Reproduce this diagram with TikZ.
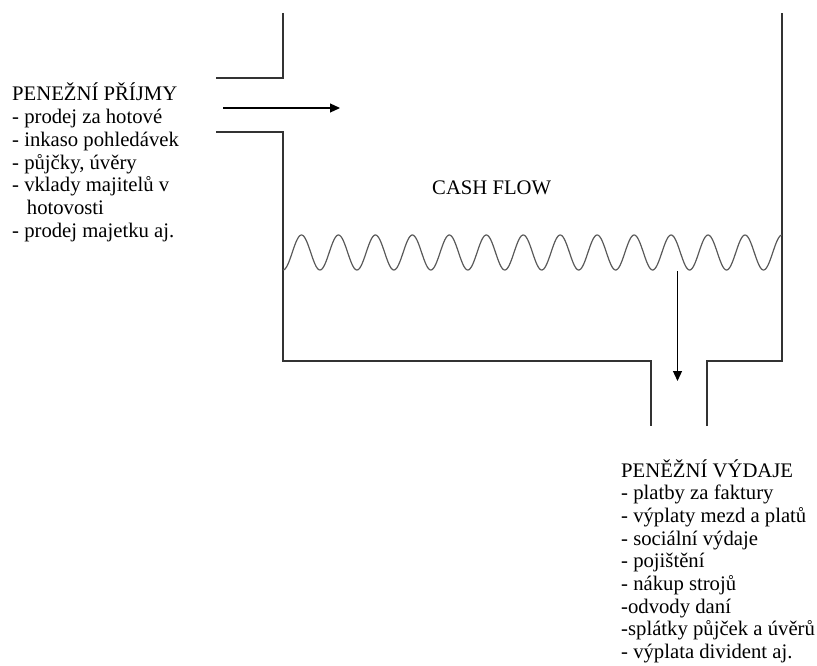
\documentclass[tikz,border=0pt]{standalone}
\usepackage{fontspec}
\setmainfont{Liberation Serif}
\usetikzlibrary{arrows.meta}
\tikzset{
  wall/.style={draw=black!80, line width=1.2pt},
  wavy/.style={draw=black!65, line width=1.2pt},
  flowarrow/.style={draw=black, line width=1.2pt, -{Triangle[length=10pt,width=9pt]}},
  listtext/.style={anchor=base west, inner sep=0pt, text=black,
    font=\fontsize{20.7}{22.7}\selectfont},
}
\begin{document}
\begin{tikzpicture}[x=1pt,y=-1pt]
\useasboundingbox (0,0) rectangle (817,666);
% tank outline
\coordinate (ltop) at (283,13);
\coordinate (lcorner) at (283,78);
\coordinate (linend) at (216,78);
\coordinate (loutend) at (216,132);
\coordinate (lcorner2) at (283,132);
\coordinate (lbot) at (283,361);
\coordinate (olbot) at (651,361);
\coordinate (olend) at (651,426);
\coordinate (orend) at (707,426);
\coordinate (orbot) at (707,361);
\coordinate (rbot) at (782,361);
\coordinate (rtop) at (782,13);
\draw[wall] (ltop) -- (lcorner) -- (linend);
\draw[wall] (loutend) -- (lcorner2) -- (lbot) -- (olbot) -- (olend);
\draw[wall] (orend) -- (orbot) -- (rbot) -- (rtop);
% liquid surface
\draw[wavy] plot[domain=0:13.5, samples=500, smooth] ({283+36.963*\x}, {252.5+17.5*cos(360*\x)});
% arrows
\coordinate (inA) at (223,108);
\coordinate (inB) at (340,108);
\draw[flowarrow] (inA) -- (inB);
\coordinate (outA) at (677.5,271);
\coordinate (outB) at (677.5,381);
\draw[flowarrow] (outA) -- (outB);
% texts
\node[listtext] (cf) at (432,194) {CASH FLOW};
\node[listtext] (inc) at (12,101) {\begin{tabular}[t]{@{}l@{}}
PENEŽNÍ PŘÍJMY\\
- prodej za hotové\\
- inkaso pohledávek\\
- půjčky, úvěry\\
- vklady majitelů v\\
\hspace*{14.7pt}hotovosti\\
- prodej majetku aj.
\end{tabular}};
\node[listtext] (out) at (621,477) {\begin{tabular}[t]{@{}l@{}}
PENĚŽNÍ VÝDAJE\\
- platby za faktury\\
- výplaty mezd a platů\\
- sociální výdaje\\
- pojištění\\
- nákup strojů\\
-odvody daní\\
-splátky půjček a úvěrů\\
- výplata divident aj.
\end{tabular}};
\end{tikzpicture}
\end{document}
